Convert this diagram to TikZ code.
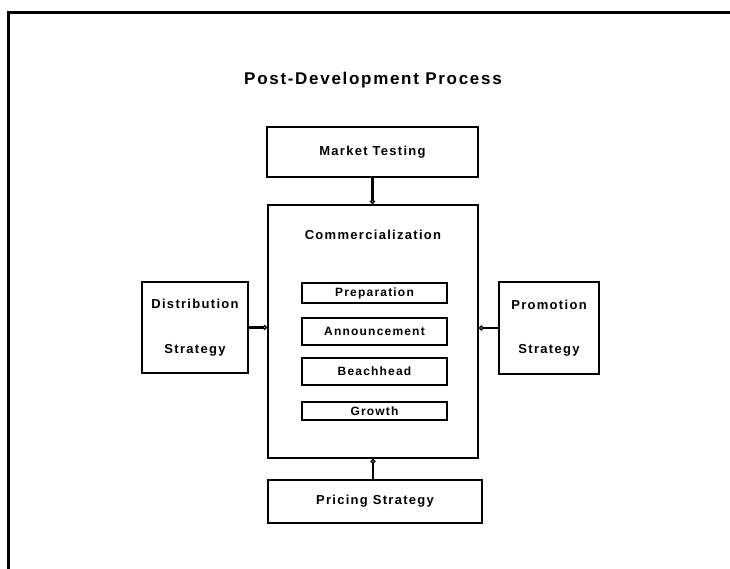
\documentclass[tikz,border=0pt]{standalone}
\usepackage{fontspec}
\setmainfont{Liberation Sans}[LetterSpace=10]
\usetikzlibrary{arrows.meta}
\begin{document}
\begin{tikzpicture}[x=1pt,y=-1pt,
  box/.style={draw, line width=1.6pt, rectangle, inner sep=0pt,
    font=\fontsize{13}{15.6}\selectfont\bfseries},
  stage/.style={box, minimum width=145pt, font=\fontsize{12}{14}\selectfont\bfseries},
  link/.style={line width=2.2pt, -{Circle[open, length=5pt, line width=1.4pt]}}]
  \useasboundingbox (0,0) rectangle (730,569);
  % page frame
  \draw[line width=3pt] (8,569) -- (8,13) -- (730,13);

  \node[font=\fontsize{17}{20}\selectfont\bfseries] (title) at (373,80) {Post-Development Process};

  \node[box, minimum width=211pt, minimum height=50pt] (market) at (372.5,152) {Market Testing};
  \node[box, minimum width=210pt, minimum height=253pt] (comm) at (373,331.5) {};
  \node[font=\fontsize{13}{15.6}\selectfont\bfseries] (commlabel) at (373,235) {Commercialization};

  \node[stage, minimum height=20pt] (prep) at (374.5,293) {Preparation};
  \node[stage, minimum height=27pt] (ann) at (374.5,331.5) {Announcement};
  \node[stage, minimum height=27pt] (beach) at (374.5,371.5) {Beachhead};
  \node[stage, minimum height=18pt] (growth) at (374.5,411) {Growth};

  \node[box, minimum width=106pt, minimum height=91pt, align=center] (dist) at (195,327.5)
    {Distribution\\[29pt]Strategy};
  \node[box, minimum width=100pt, minimum height=92pt, align=center] (promo) at (549,328)
    {Promotion\\[29pt]Strategy};

  \node[box, minimum width=214pt, minimum height=43pt] (pricing) at (375,501.5) {Pricing Strategy};

  % connectors into the commercialization block
  \draw[link] (market.south) -- (market.south |- comm.north);
  \draw[link] (pricing.north -| comm.south) -- (comm.south);
  \draw[link] (dist.east) -- (dist.east -| comm.west);
  \draw[link] (promo.west) -- (promo.west -| comm.east);
\end{tikzpicture}
\end{document}
